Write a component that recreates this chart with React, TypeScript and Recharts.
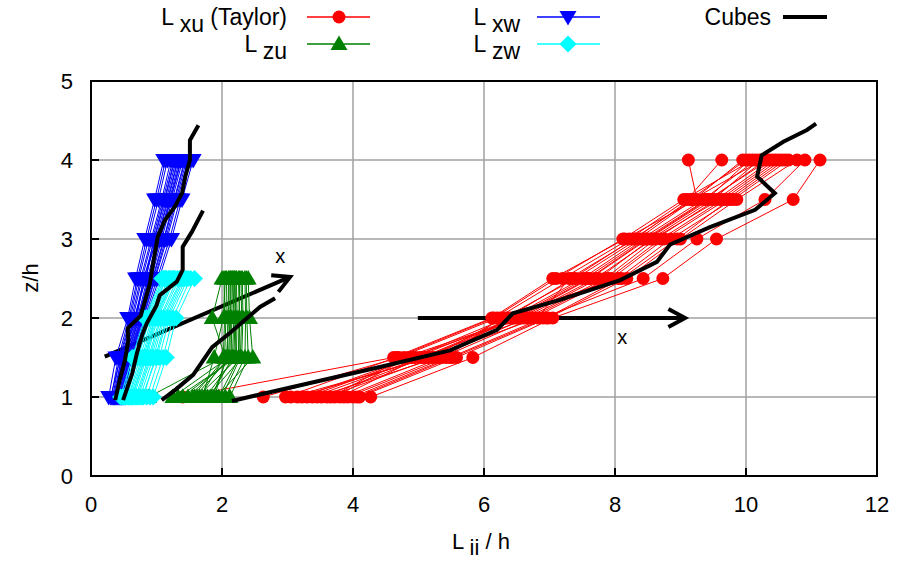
import React from "react";
import {
  CartesianGrid,
  Label,
  ReferenceArea,
  ReferenceDot,
  ReferenceLine,
  Scatter,
  ScatterChart,
  XAxis,
  YAxis,
} from "recharts";

const levels = [1, 1.5, 2, 2.5, 3, 3.5, 4];
const lowLevels = [1, 1.5, 2, 2.5];
const xTicks = [0, 2, 4, 6, 8, 10, 12];
const yTicks = [0, 1, 2, 3, 4, 5];

// L_xu (Taylor): one value per profile at each height
const xuAt1 = [1.4, 2.63, 3.72, 3.05, 3.3, 4.27, 3.15, 3.52, 2.97, 3.86, 3.45, 4.0, 3.22, 3.6, 3.92, 3.38, 4.1, 3.66, 3.8, 4.06];
const xuAt15 = [4.62, 4.7, 4.85, 5.2, 4.95, 5.83, 5.15, 5.1, 4.66, 5.35, 5.3, 5.48, 4.9, 5.25, 5.42, 5.05, 5.58, 4.78, 5.02, 5.52];
const xuAt2 = [6.12, 6.2, 6.6, 6.3, 6.45, 7.05, 6.82, 6.52, 6.15, 6.75, 6.4, 6.9, 6.35, 6.65, 6.25, 6.48, 6.98, 6.55, 6.7, 6.95];
const xuAt25 = [7.05, 7.2, 7.75, 7.4, 7.55, 8.73, 7.3, 7.62, 7.1, 7.95, 7.5, 8.43, 7.35, 7.85, 8.05, 7.6, 8.18, 7.7, 7.9, 8.1];
const xuAt3 = [8.15, 8.22, 8.55, 8.35, 8.45, 9.55, 8.3, 8.5, 8.12, 8.75, 8.4, 9.25, 8.28, 8.62, 8.85, 8.48, 9.0, 8.58, 8.7, 8.95];
const xuAt35 = [9.25, 9.1, 9.5, 9.2, 9.4, 10.72, 9.15, 9.45, 9.05, 9.7, 9.35, 10.29, 9.18, 9.55, 9.8, 9.42, 9.86, 9.6, 9.65, 9.75];
const xuAt4 = [9.12, 9.63, 10.2, 9.95, 10.05, 11.13, 10.0, 10.3, 10.1, 10.55, 10.15, 10.9, 10.25, 10.4, 10.65, 10.35, 10.78, 10.45, 10.5, 10.6];

// L_zu
const zuAt1 = [0.88, 1.25, 1.4, 1.55, 1.62, 1.7, 1.48, 1.78, 1.85, 1.33, 1.92, 1.58, 2.0, 1.66, 1.75, 2.05, 1.82, 1.95, 2.12, 1.88];
const zuAt15 = [2.02, 2.1, 2.18, 2.05, 2.25, 1.88, 2.14, 2.3, 2.08, 2.22, 2.47, 2.12, 2.28, 2.04, 2.2, 2.35, 2.16, 2.26, 2.4, 2.07];
const zuAt2 = [2.04, 2.12, 2.2, 1.85, 2.26, 2.02, 2.15, 2.32, 2.09, 2.23, 2.42, 2.13, 2.3, 2.06, 2.21, 2.36, 2.18, 2.27, 2.38, 2.1];
const zuAt25 = [2.03, 2.13, 2.19, 2.0, 2.27, 2.05, 2.16, 2.31, 2.1, 2.22, 2.4, 2.14, 2.29, 2.07, 2.2, 2.35, 2.17, 2.25, 2.37, 2.11];

// L_xw
const xwAt1 = [0.3, 0.42, 0.35, 0.48, 0.38, 0.27, 0.45, 0.4, 0.33, 0.5, 0.36, 0.44, 0.31, 0.47, 0.39, 0.52, 0.34, 0.43, 0.37, 0.46];
const xwAt15 = [0.45, 0.55, 0.5, 0.6, 0.48, 0.38, 0.57, 0.52, 0.44, 0.62, 0.49, 0.56, 0.42, 0.59, 0.51, 0.61, 0.47, 0.54, 0.46, 0.58];
const xwAt2 = [0.62, 0.74, 0.66, 0.8, 0.7, 0.56, 0.77, 0.72, 0.6, 0.84, 0.68, 0.76, 0.58, 0.79, 0.71, 0.82, 0.64, 0.73, 0.67, 0.78];
const xwAt25 = [0.76, 0.9, 0.84, 0.98, 0.8, 0.68, 0.94, 0.88, 0.73, 1.04, 0.83, 0.92, 0.71, 0.97, 0.86, 1.01, 0.78, 0.89, 0.81, 0.95];
const xwAt3 = [0.92, 1.06, 0.96, 1.16, 1.01, 0.82, 1.11, 1.04, 0.88, 1.23, 0.99, 1.08, 0.85, 1.14, 1.02, 1.2, 0.94, 1.05, 0.97, 1.12];
const xwAt35 = [1.08, 1.22, 1.12, 1.32, 1.17, 0.97, 1.27, 1.2, 1.03, 1.39, 1.15, 1.24, 1.0, 1.3, 1.18, 1.36, 1.1, 1.21, 1.13, 1.28];
const xwAt4 = [1.22, 1.38, 1.27, 1.48, 1.32, 1.11, 1.43, 1.35, 1.17, 1.56, 1.3, 1.4, 1.14, 1.46, 1.33, 1.52, 1.25, 1.37, 1.28, 1.44];

// L_zw
const zwAt1 = [0.5, 0.62, 0.55, 0.72, 0.58, 0.45, 0.68, 0.8, 0.52, 0.9, 0.6, 0.75, 0.48, 0.85, 0.65, 0.95, 0.57, 0.7, 0.63, 0.78];
const zwAt15 = [0.68, 0.82, 0.72, 0.92, 0.78, 0.63, 0.88, 0.98, 0.7, 1.1, 0.8, 0.95, 0.66, 1.04, 0.85, 1.15, 0.75, 0.9, 0.83, 1.0];
const zwAt2 = [0.86, 0.98, 0.9, 1.1, 0.95, 0.82, 1.05, 1.15, 0.88, 1.25, 0.97, 1.12, 0.84, 1.2, 1.02, 1.3, 0.93, 1.07, 1.0, 1.17];
const zwAt25 = [1.12, 1.25, 1.15, 1.38, 1.2, 1.08, 1.32, 1.42, 1.14, 1.52, 1.22, 1.4, 1.1, 1.48, 1.28, 1.58, 1.18, 1.35, 1.26, 1.45];

// Cubes profiles
const cubeXwX = [0.37, 0.44, 0.52, 0.57, 0.56, 0.76, 0.9, 0.96, 1.02, 1.13, 1.28, 1.39, 1.44, 1.51, 1.51, 1.64];
const cubeXwZ = [0.96, 1.22, 1.47, 1.72, 1.87, 2.03, 2.44, 2.75, 3.03, 3.24, 3.41, 3.58, 3.79, 4.0, 4.25, 4.44];
const cubeZwX = [0.49, 0.63, 0.7, 0.78, 0.85, 1.0, 1.05, 1.31, 1.4, 1.4, 1.54, 1.71];
const cubeZwZ = [0.96, 1.3, 1.55, 1.78, 1.93, 2.16, 2.29, 2.46, 2.61, 2.9, 3.09, 3.36];
const cubeZuX = [1.08, 1.3, 1.56, 1.85, 2.12, 2.58, 2.81];
const cubeZuZ = [0.96, 1.1, 1.28, 1.63, 1.81, 2.14, 2.25];
const cubeXuX = [2.15, 4.41, 5.48, 6.2, 6.44, 7.16, 8.08, 8.64, 8.84, 9.45, 10.14, 10.44, 10.17, 10.24, 10.57, 10.93, 11.07];
const cubeXuZ = [0.95, 1.38, 1.59, 1.85, 2.06, 2.23, 2.48, 2.71, 2.93, 3.15, 3.37, 3.58, 3.79, 4.06, 4.23, 4.38, 4.46];

// direction arrows (x from, z from, x to, z to) and their labels
const arrowLow = [0.21, 1.51, 3.04, 2.52];
const arrowHigh = [4.99, 2.0, 9.07, 2.0];
const arrowLabels = [
  { x: 2.89, z: 2.78 },
  { x: 8.11, z: 1.76 },
];

const font = "'Liberation Sans', Arial, sans-serif";

function toProfiles(columns: number[][], heights: number[]) {
  return columns[0].map((_, i) => heights.map((z, k) => ({ x: columns[k][i], z })));
}

const xuProfiles = toProfiles([xuAt1, xuAt15, xuAt2, xuAt25, xuAt3, xuAt35, xuAt4], levels);
const zuProfiles = toProfiles([zuAt1, zuAt15, zuAt2, zuAt25], lowLevels);
const xwProfiles = toProfiles([xwAt1, xwAt15, xwAt2, xwAt25, xwAt3, xwAt35, xwAt4], levels);
const zwProfiles = toProfiles([zwAt1, zwAt15, zwAt2, zwAt25], lowLevels);
const cubes = [
  [cubeXwX, cubeXwZ],
  [cubeZwX, cubeZwZ],
  [cubeZuX, cubeZuZ],
  [cubeXuX, cubeXuZ],
].map(([xs, zs]) => xs.map((x, i) => ({ x, z: zs[i] })));

const RED = "#ff0000";
const GREEN = "#008000";
const BLUE = "#0000ff";
const CYAN = "#00ffff";

const dot = (color: string) => (p: any) => <circle cx={p.cx} cy={p.cy} r={6.5} fill={color} />;
const triUp = (color: string) => (p: any) => (
  <polygon points={`${p.cx - 8.5},${p.cy + 6} ${p.cx + 8.5},${p.cy + 6} ${p.cx},${p.cy - 8.5}`} fill={color} />
);
const triDown = (color: string) => (p: any) => (
  <polygon points={`${p.cx - 8.5},${p.cy - 6} ${p.cx + 8.5},${p.cy - 6} ${p.cx},${p.cy + 8.5}`} fill={color} />
);
const diamond = (color: string) => (p: any) => (
  <polygon points={`${p.cx - 8.5},${p.cy} ${p.cx},${p.cy - 8.5} ${p.cx + 8.5},${p.cy} ${p.cx},${p.cy + 8.5}`} fill={color} />
);
const noMarker = () => <g />;

function Arrow(props: any) {
  const { x1, y1, x2, y2 } = props;
  const a = Math.atan2(y2 - y1, x2 - x1);
  const len = 19;
  const spread = 0.5;
  const ax = x2 - len * Math.cos(a - spread);
  const ay = y2 - len * Math.sin(a - spread);
  const bx = x2 - len * Math.cos(a + spread);
  const by = y2 - len * Math.sin(a + spread);
  return (
    <g stroke="#000" strokeWidth={4} fill="none">
      <line x1={x1} y1={y1} x2={x2} y2={y2} />
      <polyline points={`${ax},${ay} ${x2},${y2} ${bx},${by}`} />
    </g>
  );
}

function Legend() {
  const row1 = 17;
  const row2 = 44;
  const text = { fontFamily: font, fontSize: 23, fill: "#000" };
  return (
    <svg width={902} height={70} style={{ position: "absolute", left: 0, top: 0 }}>
      <text x={287} y={row1 + 8} textAnchor="end" {...text}>
        L <tspan dy={7}>xu</tspan>
        <tspan dy={-7}> (Taylor)</tspan>
      </text>
      <line x1={307} x2={370} y1={row1} y2={row1} stroke={RED} strokeWidth={1.5} />
      {dot(RED)({ cx: 339, cy: row1 })}

      <text x={287} y={row2 + 8} textAnchor="end" {...text}>
        L <tspan dy={7}>zu</tspan>
      </text>
      <line x1={307} x2={370} y1={row2} y2={row2} stroke={GREEN} strokeWidth={1.5} />
      {triUp(GREEN)({ cx: 339, cy: row2 })}

      <text x={520} y={row1 + 8} textAnchor="end" {...text}>
        L <tspan dy={7}>xw</tspan>
      </text>
      <line x1={537} x2={600} y1={row1} y2={row1} stroke={BLUE} strokeWidth={1.5} />
      {triDown(BLUE)({ cx: 568, cy: row1 })}

      <text x={520} y={row2 + 8} textAnchor="end" {...text}>
        L <tspan dy={7}>zw</tspan>
      </text>
      <line x1={537} x2={600} y1={row2} y2={row2} stroke={CYAN} strokeWidth={1.5} />
      {diamond(CYAN)({ cx: 568, cy: row2 })}

      <text x={771} y={row1 + 8} textAnchor="end" {...text}>
        Cubes
      </text>
      <line x1={783} x2={827} y1={row1} y2={row1} stroke="#000" strokeWidth={4} />
    </svg>
  );
}

export default function App() {
  const tick = { fontFamily: font, fontSize: 22, fill: "#000" };
  return (
    <div style={{ position: "absolute", left: 0, top: 0, width: 902, height: 563, background: "#fff" }}>
      <ScatterChart width={902} height={563} margin={{ top: 81, right: 25, bottom: 27, left: 0 }}>
        <CartesianGrid stroke="#a0a0a0" strokeWidth={1.5} />
        <XAxis
          type="number"
          dataKey="x"
          domain={[0, 12]}
          ticks={xTicks}
          height={60}
          tick={tick}
          tickSize={-8}
          tickMargin={28}
          axisLine={{ stroke: "#000", strokeWidth: 2 }}
          tickLine={{ stroke: "#000", strokeWidth: 2 }}
        >
          <Label
            content={() => (
              <text x={481} y={549} textAnchor="middle" fontFamily={font} fontSize={22}>
                L <tspan dy={6}>ii</tspan>
                <tspan dy={-6}> / h</tspan>
              </text>
            )}
          />
        </XAxis>
        <YAxis
          type="number"
          dataKey="z"
          domain={[0, 5]}
          ticks={yTicks}
          width={91}
          tick={tick}
          tickSize={-8}
          tickMargin={26}
          axisLine={{ stroke: "#000", strokeWidth: 2 }}
          tickLine={{ stroke: "#000", strokeWidth: 2 }}
        >
          <Label
            content={() => (
              <text
                x={30}
                y={278}
                textAnchor="middle"
                dominantBaseline="central"
                transform="rotate(-90 30 278)"
                fontFamily={font}
                fontSize={22}
              >
                z/h
              </text>
            )}
          />
        </YAxis>
        <ReferenceArea x1={0} x2={12} y1={0} y2={5} fill="none" stroke="#000" strokeWidth={2} />

        {xuProfiles.map((d, i) => (
          <Scatter key={`xu${i}`} data={d} line={{ stroke: RED, strokeWidth: 1 }} lineType="joint" shape={dot(RED)} isAnimationActive={false} />
        ))}
        {zuProfiles.map((d, i) => (
          <Scatter key={`zu${i}`} data={d} line={{ stroke: GREEN, strokeWidth: 1 }} lineType="joint" shape={triUp(GREEN)} isAnimationActive={false} />
        ))}
        {xwProfiles.map((d, i) => (
          <Scatter key={`xw${i}`} data={d} line={{ stroke: BLUE, strokeWidth: 1 }} lineType="joint" shape={triDown(BLUE)} isAnimationActive={false} />
        ))}
        {zwProfiles.map((d, i) => (
          <Scatter key={`zw${i}`} data={d} line={{ stroke: CYAN, strokeWidth: 1 }} lineType="joint" shape={diamond(CYAN)} isAnimationActive={false} />
        ))}
        {cubes.map((d, i) => (
          <Scatter key={`cube${i}`} data={d} line={{ stroke: "#000", strokeWidth: 4 }} lineType="joint" shape={noMarker} isAnimationActive={false} />
        ))}

        <ReferenceLine
          segment={[{ x: arrowLow[0], y: arrowLow[1] }, { x: arrowLow[2], y: arrowLow[3] }]}
          shape={Arrow}
        />
        <ReferenceLine
          segment={[{ x: arrowHigh[0], y: arrowHigh[1] }, { x: arrowHigh[2], y: arrowHigh[3] }]}
          shape={Arrow}
        />
        {arrowLabels.map((l, i) => (
          <ReferenceDot
            key={`lab${i}`}
            x={l.x}
            y={l.z}
            r={0}
            stroke="none"
            label={{ value: "x", position: "center", fontFamily: font, fontSize: 20, fill: "#000" }}
          />
        ))}
      </ScatterChart>
      <Legend />
    </div>
  );
}
